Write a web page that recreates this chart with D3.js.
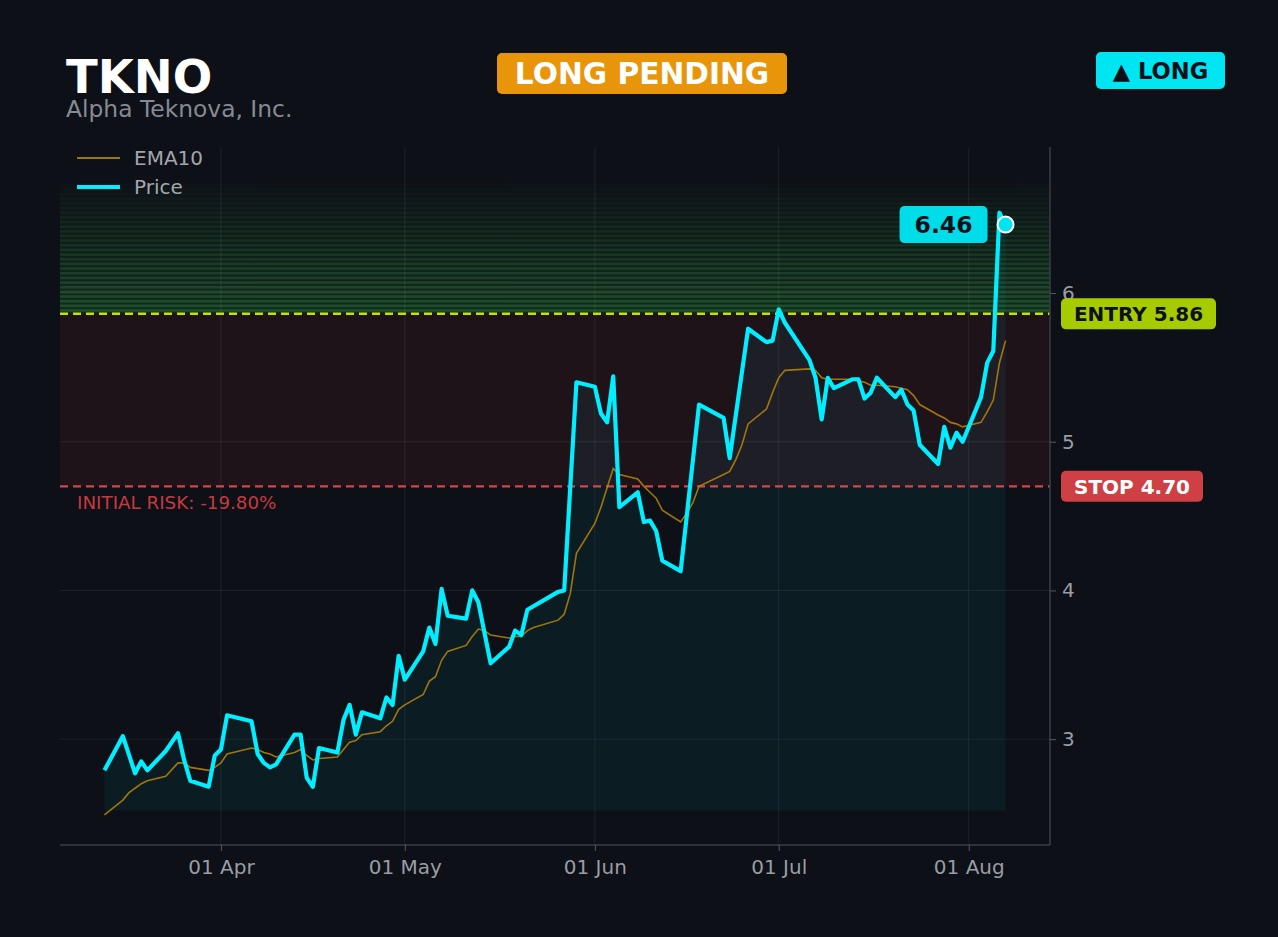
<!DOCTYPE html>
<html>
<head>
<meta charset="utf-8">
<script src="https://cdn.jsdelivr.net/npm/d3@7"></script>
<style>
  body { margin: 0; background: #0d1017; }
  svg { display: block; }
</style>
</head>
<body>
<div id="chart"></div>
<script>
// price closes (trading days)
const dates = [
  '2026-03-13', '2026-03-16', '2026-03-18', '2026-03-19', '2026-03-20', '2026-03-23', '2026-03-25', '2026-03-26',
  '2026-03-27', '2026-03-30', '2026-03-31', '2026-04-01', '2026-04-02', '2026-04-06', '2026-04-07', '2026-04-08',
  '2026-04-09', '2026-04-10', '2026-04-13', '2026-04-14', '2026-04-15', '2026-04-16', '2026-04-17', '2026-04-20',
  '2026-04-21', '2026-04-22', '2026-04-23', '2026-04-24', '2026-04-27', '2026-04-28', '2026-04-29', '2026-04-30',
  '2026-05-01', '2026-05-04', '2026-05-05', '2026-05-06', '2026-05-07', '2026-05-08', '2026-05-11', '2026-05-12',
  '2026-05-13', '2026-05-15', '2026-05-18', '2026-05-19', '2026-05-20', '2026-05-21', '2026-05-26', '2026-05-27',
  '2026-05-29', '2026-06-01', '2026-06-02', '2026-06-03', '2026-06-04', '2026-06-05', '2026-06-08', '2026-06-09',
  '2026-06-10', '2026-06-11', '2026-06-12', '2026-06-15', '2026-06-18', '2026-06-22', '2026-06-23', '2026-06-26',
  '2026-06-29', '2026-06-30', '2026-07-01', '2026-07-02', '2026-07-06', '2026-07-07', '2026-07-08', '2026-07-09',
  '2026-07-10', '2026-07-13', '2026-07-14', '2026-07-15', '2026-07-16', '2026-07-17', '2026-07-20', '2026-07-21',
  '2026-07-22', '2026-07-23', '2026-07-24', '2026-07-27', '2026-07-28', '2026-07-29', '2026-07-30', '2026-07-31',
  '2026-08-03', '2026-08-04', '2026-08-05', '2026-08-06', '2026-08-07'
]
const price = [
  2.79, 3.02, 2.77, 2.85, 2.79, 2.92, 3.04, 2.86,
  2.72, 2.68, 2.89, 2.93, 3.16, 3.12, 2.90, 2.84,
  2.81, 2.83, 3.03, 3.03, 2.74, 2.68, 2.94, 2.91,
  3.13, 3.23, 3.03, 3.18, 3.14, 3.28, 3.23, 3.56,
  3.40, 3.59, 3.75, 3.64, 4.01, 3.83, 3.81, 4.00,
  3.92, 3.51, 3.62, 3.73, 3.70, 3.87, 3.99, 4.00,
  5.40, 5.37, 5.19, 5.13, 5.44, 4.56, 4.66, 4.46,
  4.47, 4.40, 4.20, 4.13, 5.25, 5.16, 4.89, 5.76,
  5.67, 5.68, 5.89, 5.80, 5.55, 5.43, 5.15, 5.43,
  5.36, 5.42, 5.42, 5.29, 5.33, 5.43, 5.30, 5.35,
  5.25, 5.21, 4.98, 4.85, 5.10, 4.96, 5.06, 5.00,
  5.30, 5.53, 5.61, 6.54, 6.46
]

// EMA10
const emaDates = [
  '2026-03-13', '2026-03-16', '2026-03-17', '2026-03-19', '2026-03-20', '2026-03-23', '2026-03-25', '2026-03-26',
  '2026-03-27', '2026-03-30', '2026-03-31', '2026-04-01', '2026-04-02', '2026-04-06', '2026-04-07', '2026-04-08',
  '2026-04-09', '2026-04-10', '2026-04-13', '2026-04-14', '2026-04-15', '2026-04-16', '2026-04-17', '2026-04-20',
  '2026-04-21', '2026-04-22', '2026-04-23', '2026-04-24', '2026-04-27', '2026-04-28', '2026-04-29', '2026-04-30',
  '2026-05-01', '2026-05-04', '2026-05-05', '2026-05-06', '2026-05-07', '2026-05-08', '2026-05-11', '2026-05-12',
  '2026-05-13', '2026-05-14', '2026-05-15', '2026-05-18', '2026-05-19', '2026-05-20', '2026-05-21', '2026-05-22',
  '2026-05-26', '2026-05-27', '2026-05-28', '2026-05-29', '2026-06-01', '2026-06-02', '2026-06-03', '2026-06-04',
  '2026-06-05', '2026-06-08', '2026-06-09', '2026-06-10', '2026-06-11', '2026-06-12', '2026-06-15', '2026-06-16',
  '2026-06-17', '2026-06-18', '2026-06-22', '2026-06-23', '2026-06-24', '2026-06-25', '2026-06-26', '2026-06-29',
  '2026-06-30', '2026-07-01', '2026-07-02', '2026-07-06', '2026-07-07', '2026-07-08', '2026-07-09', '2026-07-10',
  '2026-07-13', '2026-07-14', '2026-07-15', '2026-07-16', '2026-07-17', '2026-07-20', '2026-07-21', '2026-07-22',
  '2026-07-23', '2026-07-24', '2026-07-27', '2026-07-28', '2026-07-29', '2026-07-30', '2026-07-31', '2026-08-03',
  '2026-08-04', '2026-08-05', '2026-08-06', '2026-08-07'
]
const ema = [
  2.49, 2.59, 2.64, 2.70, 2.72, 2.75, 2.84, 2.84,
  2.81, 2.79, 2.81, 2.84, 2.90, 2.94, 2.93, 2.91,
  2.90, 2.88, 2.91, 2.93, 2.89, 2.86, 2.87, 2.88,
  2.93, 2.98, 2.99, 3.03, 3.05, 3.09, 3.12, 3.20,
  3.23, 3.30, 3.39, 3.42, 3.53, 3.59, 3.63, 3.69,
  3.74, 3.73, 3.70, 3.68, 3.69, 3.69, 3.73, 3.75,
  3.80, 3.84, 3.98, 4.25, 4.45, 4.56, 4.69, 4.82,
  4.78, 4.75, 4.70, 4.66, 4.62, 4.54, 4.46, 4.52,
  4.59, 4.70, 4.78, 4.80, 4.88, 4.98, 5.12, 5.22,
  5.33, 5.43, 5.48, 5.49, 5.48, 5.43, 5.42, 5.42,
  5.42, 5.41, 5.40, 5.38, 5.38, 5.37, 5.36, 5.35,
  5.31, 5.25, 5.18, 5.16, 5.13, 5.12, 5.10, 5.13,
  5.20, 5.28, 5.53, 5.68
]

const ticker = 'TKNO'
const company = 'Alpha Teknova, Inc.'
const entry = 5.86
const stop = 4.70
const target = 6.8
const areaBase = 2.52
const yTicks = [3, 4, 5, 6]
const monthTicks = ['2026-04-01', '2026-05-01', '2026-06-01', '2026-07-01', '2026-08-01']

const W = 1278
const H = 937
const M = { left: 60, right: 1050, top: 147, bottom: 845 }
const FONT = 'DejaVu Sans, sans-serif'
const CYAN = '#00eeff'

const parse = d3.timeParse('%Y-%m-%d')
const priceData = dates.map((d, i) => ({ date: parse(d), v: price[i] }))
const emaData = emaDates.map((d, i) => ({ date: parse(d), v: ema[i] }))
const last = priceData[priceData.length - 1]

const DAY = 864e5
const pad = 7.25 * DAY
const x = d3.scaleTime()
  .domain([new Date(+priceData[0].date - pad), new Date(+last.date + pad)])
  .range([M.left, M.right])
const y = d3.scaleLinear()
  .domain([2.288, 6.982])
  .range([M.bottom, M.top])

const svg = d3.select('#chart')
  .append('svg')
  .attr('width', W)
  .attr('height', H)
  .style('background', '#0d1017')

const defs = svg.append('defs')
const grad = defs.append('linearGradient')
  .attr('id', 'greenFade')
  .attr('x1', 0).attr('x2', 0).attr('y1', 1).attr('y2', 0)
grad.append('stop').attr('offset', '0%').attr('stop-color', '#2a8a3a').attr('stop-opacity', 0.2)
grad.append('stop').attr('offset', '100%').attr('stop-color', '#2a8a3a').attr('stop-opacity', 0)

// risk zone between stop and entry
svg.append('rect')
  .attr('x', M.left)
  .attr('y', y(entry))
  .attr('width', M.right - M.left)
  .attr('height', y(stop) - y(entry))
  .attr('fill', 'rgba(200,45,60,0.1)')

// reward zone above entry: faded green bands
svg.append('rect')
  .attr('x', M.left)
  .attr('y', y(target))
  .attr('width', M.right - M.left)
  .attr('height', y(entry) - y(target))
  .attr('fill', 'url(#greenFade)')

const nBands = 30
const step = (target - entry) / nBands
svg.append('g')
  .selectAll('rect')
  .data(d3.range(nBands))
  .join('rect')
  .attr('x', M.left)
  .attr('y', i => y(entry + (i + 1) * step))
  .attr('width', M.right - M.left)
  .attr('height', i => Math.max(0.5, y(entry + i * step) - y(entry + (i + 1) * step) - 2))
  .attr('fill', '#35a545')
  .attr('opacity', i => 0.33 * Math.pow(1 - i / nBands, 1.2))

// grid
const grid = svg.append('g').attr('stroke', '#ffffff').attr('stroke-opacity', 0.07)
grid.selectAll('line.v')
  .data(monthTicks.map(parse))
  .join('line')
  .attr('x1', d => x(d)).attr('x2', d => x(d))
  .attr('y1', M.top).attr('y2', M.bottom)
grid.selectAll('line.h')
  .data(yTicks)
  .enter().append('line')
  .attr('x1', M.left).attr('x2', M.right)
  .attr('y1', d => y(d)).attr('y2', d => y(d))

// area under price
const area = d3.area()
  .x(d => x(d.date))
  .y0(y(areaBase))
  .y1(d => y(d.v))
svg.append('path')
  .datum(priceData)
  .attr('d', area)
  .attr('fill', 'rgba(0,229,255,0.055)')

// entry / stop lines
svg.append('line')
  .attr('x1', M.left).attr('x2', M.right)
  .attr('y1', y(entry)).attr('y2', y(entry))
  .attr('stroke', '#c8e000')
  .attr('stroke-width', 2.5)
  .attr('stroke-dasharray', '8,5')
svg.append('line')
  .attr('x1', M.left).attr('x2', M.right)
  .attr('y1', y(stop)).attr('y2', y(stop))
  .attr('stroke', '#d94447')
  .attr('stroke-width', 2.2)
  .attr('stroke-dasharray', '8,5')

svg.append('text')
  .attr('x', 77)
  .attr('y', 509)
  .attr('fill', '#c9393d')
  .attr('font-family', FONT)
  .attr('font-size', 18.3)
  .text(`INITIAL RISK: ${(((stop - entry) / entry) * 100).toFixed(2)}%`)

// lines
const line = d3.line()
  .x(d => x(d.date))
  .y(d => y(d.v))
svg.append('path')
  .datum(emaData)
  .attr('d', line)
  .attr('fill', 'none')
  .attr('stroke', '#b8860b')
  .attr('stroke-opacity', 0.85)
  .attr('stroke-width', 1.6)
svg.append('path')
  .datum(priceData)
  .attr('d', line)
  .attr('fill', 'none')
  .attr('stroke', CYAN)
  .attr('stroke-width', 4.2)
  .attr('stroke-linejoin', 'round')

svg.append('circle')
  .attr('cx', x(last.date))
  .attr('cy', y(last.v))
  .attr('r', 8)
  .attr('fill', '#00e5f0')
  .attr('stroke', '#ffffff')
  .attr('stroke-width', 2)

// frame
svg.append('line')
  .attr('x1', M.left).attr('x2', M.right)
  .attr('y1', M.bottom).attr('y2', M.bottom)
  .attr('stroke', '#3a3d44').attr('stroke-width', 1.5)
svg.append('line')
  .attr('x1', M.right).attr('x2', M.right)
  .attr('y1', M.top).attr('y2', M.bottom)
  .attr('stroke', '#3a3d44').attr('stroke-width', 1.5)

// axes
const xAxis = svg.append('g')
  .attr('transform', `translate(0,${M.bottom})`)
  .call(d3.axisBottom(x)
    .tickValues(monthTicks.map(parse))
    .tickFormat(d3.timeFormat('%d %b'))
    .tickSize(6)
    .tickPadding(9))
const yAxis = svg.append('g')
  .attr('transform', `translate(${M.right},0)`)
  .call(d3.axisRight(y)
    .tickValues(yTicks)
    .tickFormat(d3.format('d'))
    .tickSize(6)
    .tickPadding(6))
for (const g of [xAxis, yAxis]) {
  g.select('.domain').remove()
  g.selectAll('line').attr('stroke', '#555860')
  g.selectAll('text')
    .attr('fill', '#9a9da5')
    .attr('font-family', FONT)
    .attr('font-size', 20)
}

// badges
function badge(cx, cy, w, h, fill, label, color, size) {
  const g = svg.append('g')
  g.append('rect')
    .attr('x', cx - w / 2).attr('y', cy - h / 2)
    .attr('width', w).attr('height', h)
    .attr('rx', 5)
    .attr('fill', fill)
  g.append('text')
    .attr('x', cx)
    .attr('y', cy + size * 0.36)
    .attr('text-anchor', 'middle')
    .attr('font-family', FONT)
    .attr('font-weight', 'bold')
    .attr('font-size', size)
    .attr('fill', color)
    .text(label)
}

badge(1138.5, y(entry), 155, 31, '#a6cc00', `ENTRY ${entry.toFixed(2)}`, '#0d1017', 20)
badge(1132, y(stop), 142, 31, '#cf4044', `STOP ${stop.toFixed(2)}`, '#ffffff', 20)
badge(x(last.date) - 62, y(last.v), 88, 37, '#00dde8', last.v.toFixed(2), '#0d1017', 23.5)
badge(642, 73.5, 290, 41, '#e8950a', 'LONG PENDING', '#ffffff', 29.7)
badge(1160.5, 70.5, 129, 37, '#00e5f2', '▲ LONG', '#0d1017', 22.6)

// title
svg.append('text')
  .attr('x', 66).attr('y', 93)
  .attr('fill', '#ffffff')
  .attr('font-family', FONT)
  .attr('font-weight', 'bold')
  .attr('font-size', 46.5)
  .text(ticker)
svg.append('text')
  .attr('x', 66).attr('y', 116.5)
  .attr('fill', '#868a93')
  .attr('font-family', FONT)
  .attr('font-size', 23.4)
  .text(company)

// legend
const legend = [
  { label: 'EMA10', color: '#b8860b', width: 2, opacity: 0.85, yy: 158 },
  { label: 'Price', color: CYAN, width: 4, opacity: 1, yy: 187 }
]
const lg = svg.append('g')
lg.selectAll('line')
  .data(legend)
  .join('line')
  .attr('x1', 77).attr('x2', 120)
  .attr('y1', d => d.yy).attr('y2', d => d.yy)
  .attr('stroke', d => d.color)
  .attr('stroke-opacity', d => d.opacity)
  .attr('stroke-width', d => d.width)
lg.selectAll('text')
  .data(legend)
  .join('text')
  .attr('x', 134)
  .attr('y', d => d.yy + 7.3)
  .attr('fill', '#a3a6ad')
  .attr('font-family', FONT)
  .attr('font-size', 20)
  .text(d => d.label)
</script>
</body>
</html>
